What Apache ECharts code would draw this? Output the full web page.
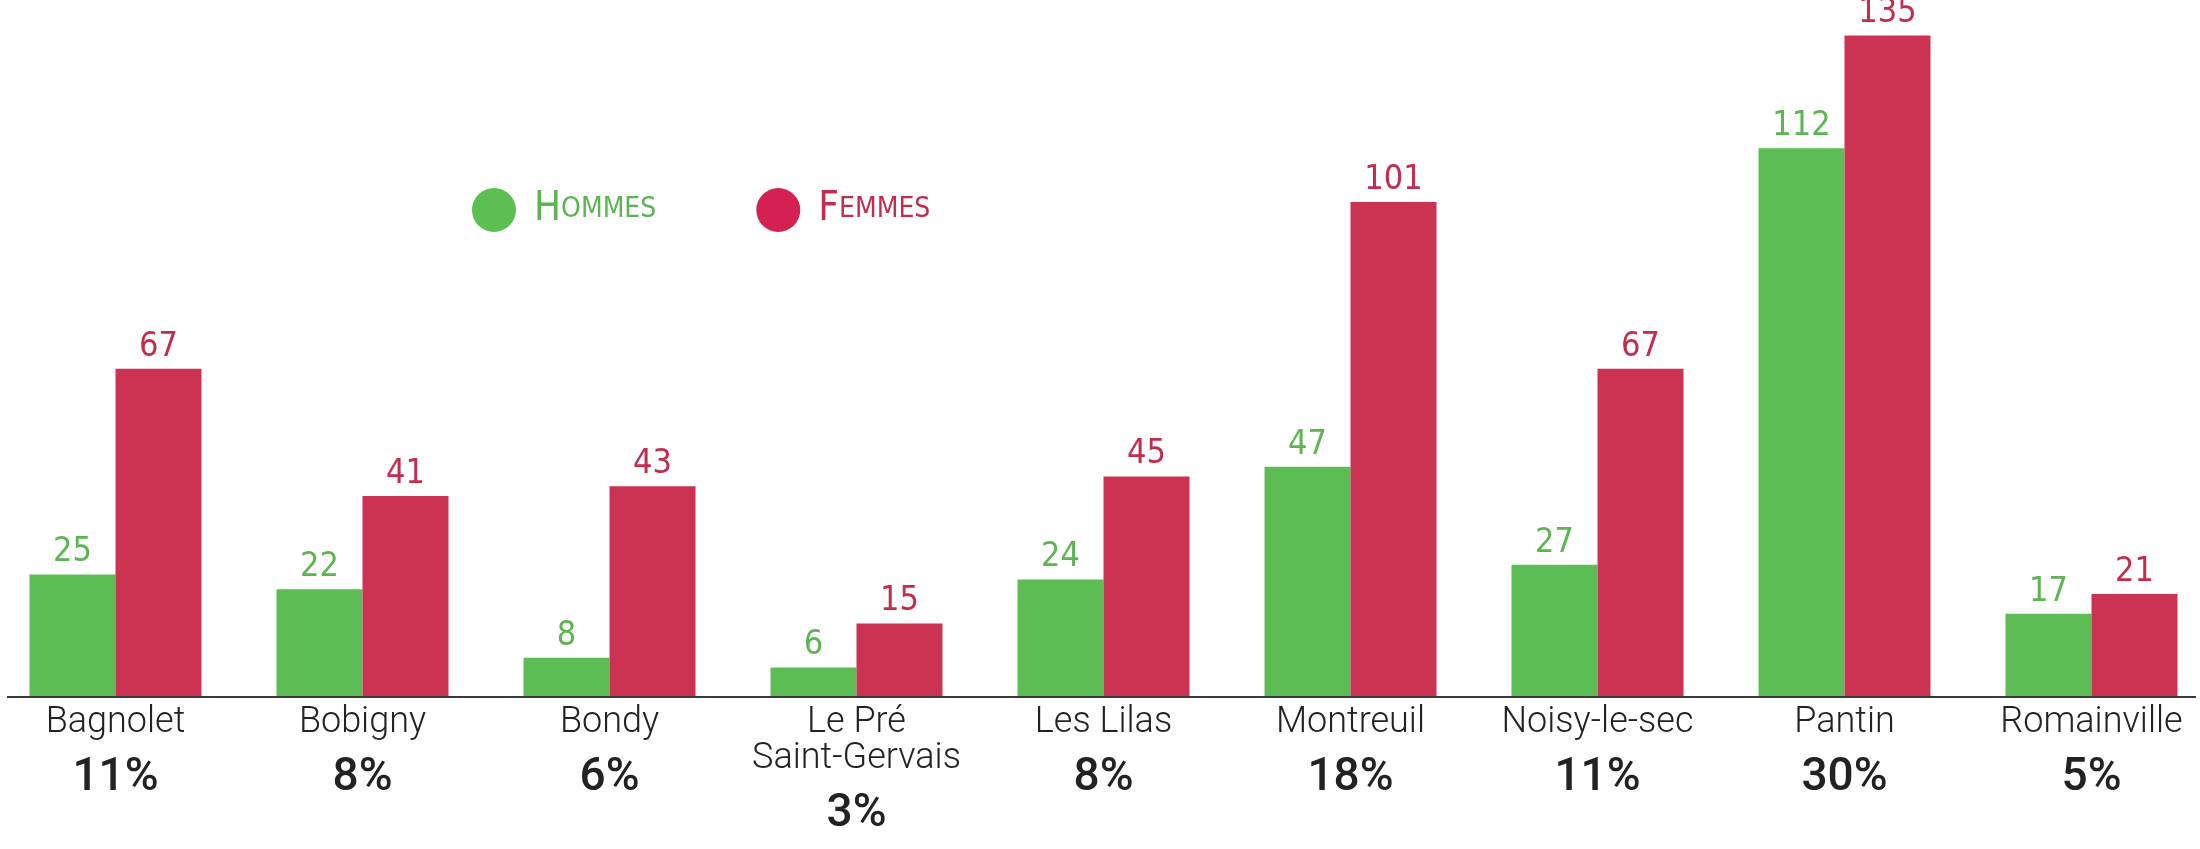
<!DOCTYPE html>
<html>
<head>
<meta charset="utf-8">
<script src="https://cdn.jsdelivr.net/npm/echarts@6/dist/echarts.min.js"></script>
<style>
html,body{margin:0;padding:0;background:#fff;}
#chart{width:2200px;height:849px;}
</style>
</head>
<body>
<div id="chart"></div>
<script>
const categories = ['Bagnolet', 'Bobigny', 'Bondy', 'Le Pré\nSaint-Gervais', 'Les Lilas', 'Montreuil', 'Noisy-le-sec', 'Pantin', 'Romainville'];
const hommes = [25, 22, 8, 6, 24, 47, 27, 112, 17];
const femmes = [67, 41, 43, 15, 45, 101, 67, 135, 21];
const shares = ['11%', '8%', '6%', '3%', '8%', '18%', '11%', '30%', '5%'];
const seriesNames = ['Hommes', 'Femmes'];

const GREEN = '#5cbd54';
const RED = '#cc3352';
const GREEN_TXT = '#5db552';
const RED_TXT = '#c42c4e';
const HAND = "'DejaVu Sans Condensed', 'Liberation Sans Narrow', 'Roboto', sans-serif";

const chart = echarts.init(document.getElementById('chart'));
chart.setOption({
  backgroundColor: '#fff',
  animation: false,
  grid: { left: -8, right: -15, top: 11, bottom: 152, containLabel: false, outerBoundsMode: 'none' },
  legend: {
    left: 467, top: 183,
    itemWidth: 48, itemHeight: 44, itemGap: 100,
    icon: 'circle',
    data: [
      { name: seriesNames[0], itemStyle: { color: '#5bbf52' } },
      { name: seriesNames[1], itemStyle: { color: '#d42152' } }
    ],
    formatter: function (name) {
      const k = name === seriesNames[0] ? 'g' : 'r';
      return '{' + k + 'B|' + name.charAt(0).toUpperCase() + '}{' + k + 'S|' + name.slice(1).toUpperCase() + '}';
    },
    textStyle: {
      rich: {
        gB: { fontFamily: HAND, fontSize: 40, color: GREEN_TXT, padding: [0, 0, 0, 11] },
        gS: { fontFamily: HAND, fontSize: 28, color: GREEN_TXT },
        rB: { fontFamily: HAND, fontSize: 40, color: RED_TXT, padding: [0, 0, 0, 11] },
        rS: { fontFamily: HAND, fontSize: 28, color: RED_TXT }
      }
    }
  },
  xAxis: {
    type: 'category',
    data: categories,
    axisLine: { show: false },
    axisTick: { show: false },
    axisLabel: {
      interval: 0,
      margin: 8,
      formatter: function (value, idx) {
        const lines = value.split('\n').map(s => '{n|' + s + '}');
        return lines.join('\n') + '\n{p|' + shares[idx] + '}';
      },
      rich: {
        n: { fontFamily: 'Roboto', fontWeight: 300, fontSize: 36, color: '#222', lineHeight: 36 },
        p: { fontFamily: 'Roboto', fontWeight: 500, fontSize: 46, color: '#222', lineHeight: 74 }
      }
    }
  },
  yAxis: {
    type: 'value', min: 0, max: 140,
    show: false,
    splitLine: { show: false }
  },
  series: [
    {
      name: seriesNames[0], type: 'bar', data: hommes,
      barWidth: 86, barGap: '0%',
      itemStyle: { color: GREEN },
      label: { show: true, position: 'top', distance: 5, fontFamily: HAND, fontSize: 34, color: GREEN_TXT }
    },
    {
      name: seriesNames[1], type: 'bar', data: femmes,
      barWidth: 86, barGap: '0%',
      itemStyle: { color: RED },
      label: { show: true, position: 'top', distance: 5, fontFamily: HAND, fontSize: 34, color: RED_TXT }
    }
  ],
  graphic: [
    { type: 'line', shape: { x1: 7, y1: 697, x2: 2196, y2: 697 }, style: { stroke: '#3a3a3a', lineWidth: 2 }, z: 10 }
  ]
});
</script>
</body>
</html>
